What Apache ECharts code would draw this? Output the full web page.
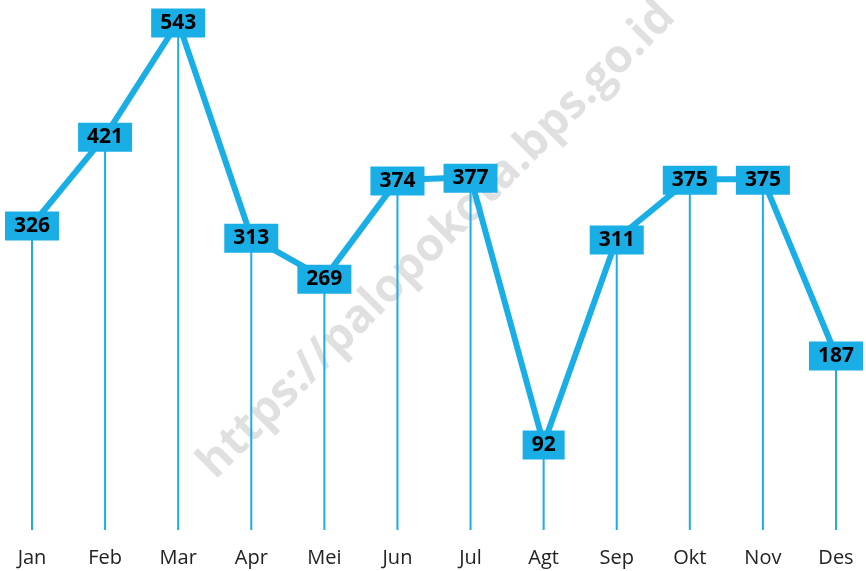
<!DOCTYPE html>
<html>
<head>
<meta charset="utf-8">
<script src="https://cdn.jsdelivr.net/npm/echarts@6/dist/echarts.min.js"></script>
<style>
  html, body { margin: 0; padding: 0; background: #fff; }
  #chart { width: 866px; height: 571px; }
</style>
</head>
<body>
<div id="chart"></div>
<script>
const months = ['Jan', 'Feb', 'Mar', 'Apr', 'Mei', 'Jun', 'Jul', 'Agt', 'Sep', 'Okt', 'Nov', 'Des']
const values = [326, 421, 543, 313, 269, 374, 377, 92, 311, 375, 375, 187]
const watermark = 'https://palopokota.bps.go.id'

const blue = '#1aaee6'
const chart = echarts.init(document.getElementById('chart'))

chart.setOption({
  animation: false,
  grid: { left: 32, right: 30, top: 22, bottom: 41 },
  xAxis: {
    type: 'category',
    data: months,
    boundaryGap: false,
    axisLine: { show: false },
    axisTick: { show: false },
    axisLabel: {
      color: '#222',
      fontSize: 20,
      fontFamily: 'Open Sans',
      margin: 18
    }
  },
  yAxis: {
    type: 'value',
    min: 0,
    max: 543,
    show: false,
    splitLine: { show: false }
  },
  graphic: [
    {
      type: 'text',
      x: 437,
      y: 240,
      rotation: Math.PI / 4,
      style: {
        text: watermark,
        fill: 'rgba(0,0,0,0.12)',
        font: 'bold 46px "Open Sans"',
        align: 'center',
        verticalAlign: 'middle'
      },
      z: 0
    }
  ],
  series: [
    {
      type: 'bar',
      data: values,
      barWidth: 2,
      itemStyle: { color: blue },
      z: 1
    },
    {
      type: 'line',
      data: values,
      symbol: 'circle',
      symbolSize: 1,
      lineStyle: { color: blue, width: 6 },
      itemStyle: { color: blue },
      label: {
        show: true,
        position: 'inside',
        color: '#000',
        fontSize: 21,
        fontWeight: 'bold',
        fontFamily: 'Open Sans',
        backgroundColor: blue,
        padding: [5, 9, 3, 9],
        offset: [0, 1]
      },
      z: 3
    }
  ]
})
</script>
</body>
</html>
